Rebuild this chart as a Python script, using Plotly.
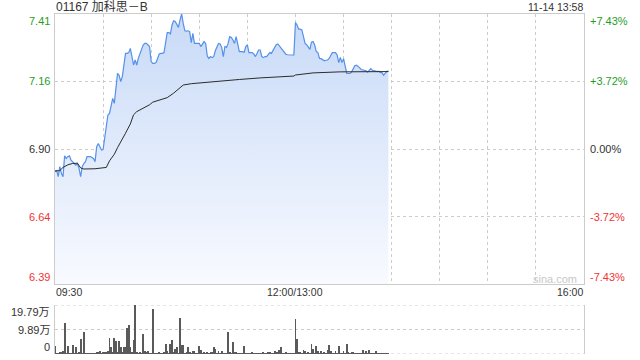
import plotly.graph_objects as go

# ---------------- data ----------------
title_text = "01167 加科思－B"
stamp_text = "11-14 13:58"
prev_close = 6.90
pct_ticks = [-7.43, -3.72, 0.00, 3.72, 7.43]
price_tick_labels = ["6.39", "6.64", "6.90", "7.16", "7.41"]
pct_tick_labels = ["-7.43%", "-3.72%", "0.00%", "+3.72%", "+7.43%"]

# one price per trading minute: 09:30 ... 11:59, 13:00 ... 13:58
prices = [
    6.814, 6.820, 6.795, 6.833, 6.807, 6.795, 6.874, 6.864, 6.871, 6.874,
    6.858, 6.852, 6.845, 6.839, 6.845, 6.826, 6.795, 6.833, 6.845, 6.852,
    6.871, 6.871, 6.871, 6.868, 6.864, 6.852, 6.909, 6.921, 6.909, 6.896,
    6.898, 6.947, 6.985, 7.029, 7.035, 7.061, 7.092, 7.073, 7.137, 7.187,
    7.180, 7.156, 7.175, 7.232, 7.263, 7.263, 7.266, 7.282, 7.251, 7.219,
    7.238, 7.219, 7.245, 7.263, 7.276, 7.295, 7.301, 7.301, 7.295, 7.289,
    7.232, 7.225, 7.225, 7.228, 7.244, 7.261, 7.263, 7.263, 7.266, 7.308,
    7.342, 7.342, 7.337, 7.371, 7.387, 7.384, 7.371, 7.362, 7.390, 7.413,
    7.377, 7.349, 7.348, 7.349, 7.346, 7.304, 7.339, 7.301, 7.301, 7.301,
    7.301, 7.289, 7.299, 7.308, 7.301, 7.253, 7.244, 7.251, 7.247, 7.251,
    7.273, 7.291, 7.301, 7.299, 7.286, 7.251, 7.289, 7.286, 7.301, 7.327,
    7.324, 7.314, 7.301, 7.327, 7.299, 7.270, 7.270, 7.270, 7.267, 7.289,
    7.295, 7.266, 7.266, 7.266, 7.261, 7.251, 7.263, 7.276, 7.276, 7.251,
    7.247, 7.251, 7.251, 7.260, 7.266, 7.263, 7.273, 7.286, 7.296, 7.299,
    7.291, 7.285, 7.278, 7.266, 7.260, 7.258, 7.257, 7.257, 7.257, 7.257,
    7.380, 7.371, 7.355, 7.355, 7.352, 7.327, 7.301, 7.296, 7.289, 7.278,
    7.306, 7.308, 7.295, 7.270, 7.266, 7.244, 7.243, 7.238, 7.235, 7.237,
    7.238, 7.244, 7.257, 7.266, 7.266, 7.266, 7.257, 7.228, 7.248, 7.228,
    7.243, 7.213, 7.187, 7.187, 7.187, 7.192, 7.206, 7.216, 7.218, 7.215,
    7.209, 7.202, 7.200, 7.200, 7.197, 7.192, 7.200, 7.205, 7.199, 7.196,
    7.196, 7.194, 7.196, 7.190, 7.190, 7.180, 7.187, 7.195, 7.196,
]

# average-price line vertices (minute index, price)
avg_minutes = [0, 3, 5, 8, 11, 14, 16, 18, 25, 30, 32, 34, 37, 39, 42, 44, 47, 49,
               51, 53, 56, 59, 61, 65, 70, 74, 78, 80, 85, 90, 100, 107, 115, 128,
               140, 149, 150, 161, 178, 190, 208]
avg_prices = [6.816, 6.818, 6.830, 6.840, 6.845, 6.846, 6.828, 6.824, 6.825, 6.827,
              6.830, 6.855, 6.880, 6.905, 6.935, 6.960, 6.995, 7.030, 7.042, 7.048,
              7.058, 7.068, 7.078, 7.085, 7.095, 7.112, 7.134, 7.143, 7.148, 7.151,
              7.156, 7.160, 7.164, 7.170, 7.174, 7.177, 7.181, 7.189, 7.193, 7.194,
              7.194]

# volume per minute (shares)
volumes = [
    31000, 3000, 4000, 5000, 6000, 11000, 125000, 3000, 31000, 4000,
    4000, 35000, 3000, 28000, 3000, 5000, 60000, 4000, 89000, 3000,
    2000, 3000, 3000, 2000, 4000, 3000, 5000, 7000, 11000, 4000,
    7000, 5000, 8000, 13000, 65000, 28000, 6000, 65000, 54000, 8000,
    54000, 28000, 6000, 28000, 27000, 105000, 118000, 28000, 5000, 58000,
    197900, 8000, 4000, 8000, 4000, 81000, 13000, 5000, 11000, 3000,
    4000, 182000, 3000, 4000, 3000, 7000, 4000, 3000, 5000, 40000,
    13000, 4000, 40000, 57000, 5000, 22000, 28000, 4000, 145000, 35000,
    35000, 4000, 5000, 27000, 6000, 4000, 11000, 13000, 4000, 3000,
    31000, 16000, 3000, 8000, 4000, 8000, 4000, 5000, 9000, 28000,
    22000, 4000, 11000, 3000, 13000, 4000, 3000, 4000, 89000, 5000,
    4000, 50000, 6000, 8000, 4000, 3000, 2000, 4000, 31000, 3000,
    4000, 3000, 4000, 8000, 4000, 3000, 2000, 4000, 3000, 4000,
    7000, 3000, 4000, 8000, 7000, 3000, 4000, 11000, 5000, 9000,
    18000, 28000, 3000, 4000, 5000, 3000, 2000, 4000, 3000, 4000,
    141000, 62000, 8000, 8000, 4000, 15000, 13000, 4000, 7000, 3000,
    40000, 20000, 4000, 31000, 11000, 3000, 13000, 4000, 7000, 3000,
    18000, 35000, 11000, 4000, 3000, 13000, 4000, 31000, 3000, 4000,
    11000, 3000, 40000, 8000, 4000, 7000, 7000, 3000, 4000, 3000,
    4000, 3000, 18000, 4000, 11000, 3000, 15000, 4000, 3000, 4000,
    11000, 3000, 4000, 4000, 3000, 3000, 2000, 2000, 3000,
]
vol_max = 197900
vol_tick_labels = ["0", "9.89万", "19.79万"]

session_minutes = 330
grid_step = 30
x_tick_minutes = [0, 150, 330]
x_tick_labels = ["09:30", "12:00/13:00", "16:00"]

# ---------------- derived ----------------
minutes = list(range(len(prices)))
grid_prices = [prev_close * (1 + p / 100) for p in pct_ticks]
ymin, ymax = grid_prices[0], grid_prices[-1]
vol_grid = [0, vol_max / 2, vol_max]

W, H = 640, 360
L, R = 55, 584
MT, MB = 14, 284
VT, VB = 305, 354

FONT = "Liberation Sans, Arial, Noto Sans CJK SC, sans-serif"
GRID = "#cccccc"
GREEN = "#1f9e1f"
RED = "#f03434"
DARK = "#333333"

fig = go.Figure()

fig.add_trace(go.Scatter(
    x=minutes, y=prices, mode="lines",
    line=dict(color="#5590ea", width=1.2),
    fill="tozeroy",
    fillgradient=dict(type="vertical",
                      colorscale=[[0, "rgb(248,250,255)"], [1, "rgb(200,218,247)"]],
                      start=ymin, stop=ymax),
    hoverinfo="skip", showlegend=False, xaxis="x", yaxis="y"))

fig.add_trace(go.Scatter(
    x=avg_minutes, y=avg_prices, mode="lines",
    line=dict(color="#2b2b2b", width=1),
    hoverinfo="skip", showlegend=False, xaxis="x", yaxis="y"))

fig.add_trace(go.Bar(
    x=minutes, y=volumes, width=0.55,
    marker=dict(color="#5a5a5a", line=dict(width=0)),
    hoverinfo="skip", showlegend=False, xaxis="x2", yaxis="y2"))

xdom = [L / W, R / W]
fig.update_layout(
    width=W, height=H,
    margin=dict(l=0, r=0, t=0, b=0),
    paper_bgcolor="white", plot_bgcolor="rgba(0,0,0,0)",
    font=dict(family=FONT, size=11, color=DARK),
    bargap=0,
    xaxis=dict(domain=xdom, range=[0, session_minutes],
               tickvals=list(range(0, session_minutes + 1, grid_step)),
               showticklabels=False, ticks="", showgrid=True, gridcolor=GRID,
               griddash="dot", gridwidth=1, zeroline=False,
               showline=True, mirror=True, linecolor=GRID, linewidth=1,
               anchor="y"),
    yaxis=dict(domain=[1 - MB / H, 1 - MT / H], range=[ymin, ymax],
               tickvals=grid_prices, showticklabels=False, ticks="",
               showgrid=True, gridcolor=GRID, griddash="dot", gridwidth=1,
               zeroline=False, showline=True, mirror=True, linecolor=GRID,
               linewidth=1, anchor="x"),
    xaxis2=dict(domain=xdom, range=[0, session_minutes], showticklabels=False,
                ticks="", showgrid=False, zeroline=False, showline=False,
                anchor="y2"),
    yaxis2=dict(domain=[1 - VB / H, 1 - VT / H], range=[0, vol_max],
                showticklabels=False, ticks="", showgrid=False, zeroline=False,
                showline=True, mirror=True, linecolor=GRID, linewidth=1,
                anchor="x2"),
)

shapes = []
for v in vol_grid:
    shapes.append(dict(type="line", xref="x2 domain", yref="y2", x0=0, x1=1,
                       y0=v, y1=v, line=dict(color=GRID, width=1, dash="dot"),
                       layer="below"))
fig.update_layout(shapes=shapes)

ann = []
n = len(grid_prices)
for i, (gp, pl, pc) in enumerate(zip(grid_prices, price_tick_labels, pct_tick_labels)):
    col = GREEN if pct_ticks[i] > 0 else (RED if pct_ticks[i] < 0 else DARK)
    ya = "top" if i == n - 1 else ("bottom" if i == 0 else "middle")
    ann.append(dict(xref="paper", yref="y", x=51 / W, y=gp, text=pl,
                    xanchor="right", yanchor=ya, showarrow=False,
                    font=dict(size=11, color=col), borderpad=0))
    ann.append(dict(xref="paper", yref="y", x=589 / W, y=gp, text=pc,
                    xanchor="left", yanchor=ya, showarrow=False,
                    font=dict(size=11, color=col), borderpad=0))

for i, (v, t) in enumerate(zip(vol_grid, vol_tick_labels)):
    ya = "bottom" if i == 0 else ("top" if i == len(vol_grid) - 1 else "middle")
    ann.append(dict(xref="paper", yref="y2", x=51 / W, y=v, text=t,
                    xanchor="right", yanchor=ya, showarrow=False,
                    font=dict(size=11, color=DARK), borderpad=0))

anchors = ["left", "center", "right"]
for m, t, a in zip(x_tick_minutes, x_tick_labels, anchors):
    ann.append(dict(xref="x", yref="paper", x=m, y=1 - 292 / H, text=t,
                    xanchor=a, yanchor="middle", showarrow=False,
                    font=dict(size=10.5, color=DARK), borderpad=0))

ann.append(dict(xref="paper", yref="paper", x=L / W, y=1 - 7 / H, text=title_text,
                xanchor="left", yanchor="middle", showarrow=False,
                font=dict(size=12, color=DARK), borderpad=0))
ann.append(dict(xref="paper", yref="paper", x=R / W, y=1 - 7 / H, text=stamp_text,
                xanchor="right", yanchor="middle", showarrow=False,
                font=dict(size=10.5, color=DARK), borderpad=0))
ann.append(dict(xref="paper", yref="paper", x=578 / W, y=1 - 279 / H, text="sina.com",
                xanchor="right", yanchor="middle", showarrow=False,
                font=dict(size=11, color="#c8c8c8"), borderpad=0))

fig.update_layout(annotations=ann)

fig.write_html("out.html")
